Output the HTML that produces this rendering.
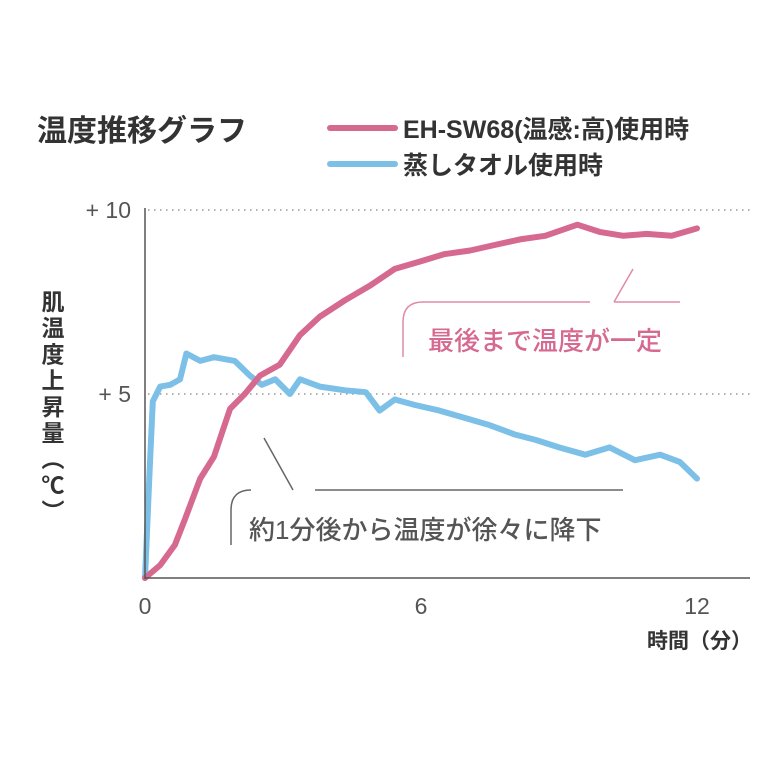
<!DOCTYPE html>
<html><head><meta charset="utf-8"><style>
body{margin:0;background:#fff;}
svg text{font-family:"Liberation Sans","Noto Sans CJK JP",sans-serif;}
</style></head><body>
<svg width="770" height="770" viewBox="0 0 770 770" xmlns="http://www.w3.org/2000/svg">
<rect width="770" height="770" fill="#fff"/>
<text x="37" y="141" font-size="30" font-weight="bold" fill="#333">温度推移グラフ</text>
<g>
<line x1="330" y1="128" x2="395" y2="128" stroke="#d6698f" stroke-width="6" stroke-linecap="round"/>
<text x="403" y="138" font-size="25" font-weight="bold" fill="#333">EH-SW68(温感:高)使用時</text>
<line x1="330" y1="164" x2="395" y2="164" stroke="#7cc0e8" stroke-width="6" stroke-linecap="round"/>
<text x="403" y="174" font-size="25" font-weight="bold" fill="#333">蒸しタオル使用時</text>
</g>
<g id="grid"></g>
<g id="ticks"></g>
<g id="series"></g>
<line x1="145" y1="208" x2="145" y2="579" stroke="#555" stroke-width="1.5"/>
<line x1="145" y1="578" x2="750" y2="578" stroke="#555" stroke-width="1.5"/>
<text x="752" y="648" font-size="21" font-weight="bold" fill="#333" text-anchor="end">時間（分）</text>
<g id="ytitle" font-size="23" font-weight="bold" fill="#333" text-anchor="middle"></g>
<g>
<path d="M403,357 V322 Q403,302 423,302 H590 M614,302 L633,269 M614,302 H680" fill="none" stroke="#e08aa8" stroke-width="1.5"/>
<text x="428" y="350" font-size="26" font-weight="500" fill="#d6698f">最後まで温度が一定</text>
</g>
<g>
<path d="M231,545 V510 Q231,490 251,490 M293,490 L264,438 M315,490 H623" fill="none" stroke="#666" stroke-width="1.5"/>
<text x="249" y="539" font-size="26" font-weight="500" fill="#555">約1分後から温度が徐々に降下</text>
</g>
</svg>
<script>
const pinkTimes=[0,0.33,0.65,0.87,1.2,1.5,1.85,2.17,2.5,2.93,3.37,3.8,4.35,4.9,5.43,5.98,6.5,7.07,7.6,8.15,8.7,9.4,9.9,10.4,10.9,11.45,12];
const pinkValues=[0,0.35,0.9,1.6,2.7,3.3,4.6,5.0,5.5,5.8,6.6,7.1,7.55,7.95,8.4,8.6,8.8,8.9,9.05,9.2,9.3,9.6,9.4,9.3,9.35,9.3,9.5];
const blueTimes=[0,0.1,0.17,0.33,0.55,0.76,0.9,1.2,1.5,1.95,2.28,2.54,2.83,3.15,3.37,3.8,4.35,4.8,5.1,5.43,5.87,6.4,6.95,7.5,8.04,8.5,9.0,9.57,10.1,10.65,11.2,11.63,12];
const blueValues=[0,2.9,4.8,5.2,5.25,5.4,6.1,5.9,6.0,5.9,5.5,5.25,5.4,5.0,5.4,5.2,5.1,5.05,4.55,4.85,4.7,4.55,4.35,4.15,3.9,3.75,3.55,3.35,3.55,3.2,3.35,3.15,2.7];
const xTicks=[0,6,12];
const yTicks=[5,10];
const yTickLabels=["+ 5","+ 10"];
const yTitleChars=["肌","温","度","上","昇","量","︵","℃","︶"];
const NS="http://www.w3.org/2000/svg";
const X=t=>145+t*46;
const Y=v=>578-v*36.8;
function mk(tag,attrs,parent){const e=document.createElementNS(NS,tag);for(const k in attrs)e.setAttribute(k,attrs[k]);parent.appendChild(e);return e;}
const grid=document.getElementById('grid'),ticks=document.getElementById('ticks'),series=document.getElementById('series');
const yt=document.getElementById('ytitle');
yTitleChars.forEach((c,i)=>{
  const t=mk('text',{x:53,y:310+i*26.2},yt);
  t.textContent=c;
  
  
});
yTicks.forEach((v,i)=>{
  const l=mk('line',{x1:148,y1:Y(v),x2:750,y2:Y(v),stroke:'#999','stroke-width':1.5,'stroke-dasharray':'1.5 4.5'},grid);
  
  
  const t=mk('text',{x:131,y:Y(v)+8,'font-size':23,fill:'#555','text-anchor':'end'},ticks);
  t.textContent=yTickLabels[i];
  
  
});
xTicks.forEach(v=>{
  const t=mk('text',{x:X(v),y:614,'font-size':23,fill:'#555','text-anchor':'middle'},ticks);
  t.textContent=String(v);
  
  
});
function line(ts,vs,color,name){
  const d=ts.map((t,i)=>(i?'L':'M')+X(t).toFixed(1)+','+Y(vs[i]).toFixed(1)).join(' ');
  const p=mk('path',{d:d,fill:'none',stroke:color,'stroke-width':6,'stroke-linejoin':'round','stroke-linecap':'round'},series);
  
  
}
line(blueTimes,blueValues,'#7cc0e8','towel-line');
line(pinkTimes,pinkValues,'#d6698f','eh-sw68-line');
</script>
</body></html>
